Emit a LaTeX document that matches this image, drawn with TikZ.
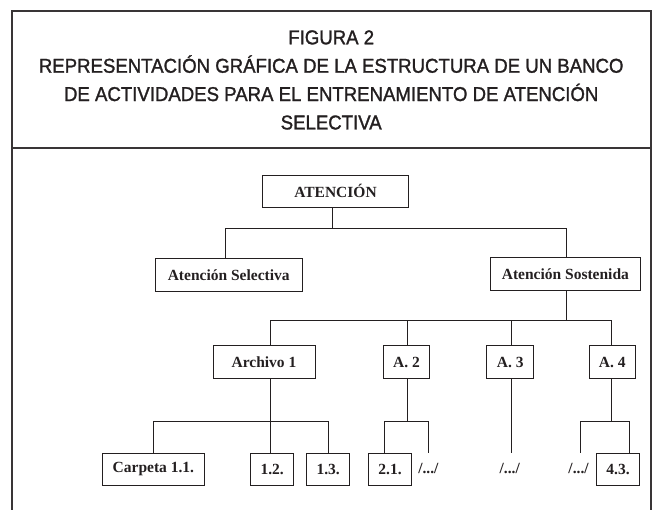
\documentclass[tikz,border=0pt]{standalone}
\usepackage{fontspec}
\setmainfont{Liberation Serif}
\newfontfamily\titlefont[FakeStretch=0.93,FakeBold=1.4]{Liberation Sans}
\definecolor{ink}{HTML}{231F20}
\begin{document}
\begin{tikzpicture}[x=1pt,y=-1pt,
  frame/.style={draw=ink!90,line width=2.4pt},
  ttl/.style={font=\titlefont\fontsize{20}{24}\selectfont,text=ink,anchor=base,inner sep=0pt},
  box/.style={draw=ink,line width=0.9pt,inner sep=0pt,font=\bfseries\fontsize{15.5}{18}\selectfont,text=ink},
  dots/.style={inner sep=0pt,font=\bfseries\fontsize{15.5}{18}\selectfont,text=ink},
  conn/.style={draw=ink,line width=0.9pt}]
\useasboundingbox (0,0) rectangle (655,509);
% outer frame and divider
\draw[frame] (11.7,515) -- (11.7,11) -- (650.7,11) -- (650.7,515);
\draw[frame] (11.7,148) -- (650.7,148);
% title
\node[ttl] (t1) at (331.2,44.3) {FIGURA 2};
\node[ttl] (t2) at (331.2,72.7) {REPRESENTACIÓN GRÁFICA DE LA ESTRUCTURA DE UN BANCO};
\node[ttl] (t3) at (331.2,101) {DE ACTIVIDADES PARA EL ENTRENAMIENTO DE ATENCIÓN};
\node[ttl] (t4) at (331.2,129.4) {SELECTIVA};
% boxes
\node[box,minimum width=146.4pt,minimum height=32.7pt] (aten) at (335.5,191.4) {ATENCIÓN};
\node[box,minimum width=147.3pt,minimum height=33.4pt] (sel) at (228.7,275) {Atención Selectiva};
\node[box,minimum width=149.3pt,minimum height=32.7pt] (sos) at (565.4,273.7) {Atención Sostenida};
\node[box,minimum width=102.1pt,minimum height=32.7pt] (arch) at (264,362) {Archivo 1};
\node[box,minimum width=46.4pt,minimum height=32.7pt] (a2) at (406.4,362) {A. 2};
\node[box,minimum width=46.8pt,minimum height=32.7pt] (a3) at (510.2,362) {A. 3};
\node[box,minimum width=46.5pt,minimum height=32.7pt] (a4) at (612.2,362) {A. 4};
\node[box,minimum width=102.5pt,minimum height=32.4pt] (c11) at (153.4,469.5) {Carpeta 1.1.};
\node[box,minimum width=42.9pt,minimum height=32.4pt] (b12) at (272.2,469.5) {1.2.};
\node[box,minimum width=42.8pt,minimum height=32.4pt] (b13) at (328.2,469.5) {1.3.};
\node[box,minimum width=42.8pt,minimum height=32.4pt] (b21) at (390,469.5) {2.1.};
\node[box,minimum width=42.5pt,minimum height=32.4pt] (b43) at (618,469.5) {4.3.};
\node[dots] (e2) at (428.4,468.3) {/.../};
\node[dots] (e3) at (509.8,468.3) {/.../};
\node[dots] (e4) at (578.6,468.3) {/.../};
% level 1 connectors
\coordinate (h1M) at (332.3,228.3);
\coordinate (h1L) at (225,228.3);
\coordinate (h1R) at (566,228.3);
\draw[conn] (aten.south -| h1M) -- (h1M);
\draw[conn] (sel.north -| h1L) -- (h1L) -- (h1R) -- (sos.north -| h1R);
% level 2 connectors
\coordinate (h2M) at (566,320);
\coordinate (h2A) at (270.4,320);
\coordinate (h2B) at (407,320);
\coordinate (h2C) at (511.6,320);
\coordinate (h2D) at (611.6,320);
\draw[conn] (sos.south -| h2M) -- (h2M);
\draw[conn] (arch.north -| h2A) -- (h2A) -- (h2D) -- (a4.north -| h2D);
\draw[conn] (h2B) -- (a2.north -| h2B);
\draw[conn] (h2C) -- (a3.north -| h2C);
% level 3: Archivo 1
\coordinate (p1M) at (270.4,421.5);
\coordinate (p1L) at (153.6,421.5);
\coordinate (p1R) at (328.9,421.5);
\draw[conn] (arch.south -| p1M) -- (p1M);
\draw[conn] (c11.north -| p1L) -- (p1L) -- (p1R) -- (b13.north -| p1R);
\draw[conn] (p1M) -- (b12.north -| p1M);
% level 3: A. 2
\coordinate (p2M) at (407,421);
\coordinate (p2L) at (384,421);
\coordinate (p2R) at (428.3,421);
\coordinate (f2) at (428.3,452.5);
\draw[conn] (a2.south -| p2M) -- (p2M);
\draw[conn] (b21.north -| p2L) -- (p2L) -- (p2R) -- (f2);
% level 3: A. 3
\coordinate (f3) at (511.6,452.5);
\draw[conn] (a3.south -| f3) -- (f3);
% level 3: A. 4
\coordinate (p4M) at (611.6,421);
\coordinate (p4L) at (580.7,421);
\coordinate (p4R) at (629,421);
\coordinate (f4) at (580.7,452.5);
\draw[conn] (a4.south -| p4M) -- (p4M);
\draw[conn] (f4) -- (p4L) -- (p4R) -- (b43.north -| p4R);
\end{tikzpicture}
\end{document}
